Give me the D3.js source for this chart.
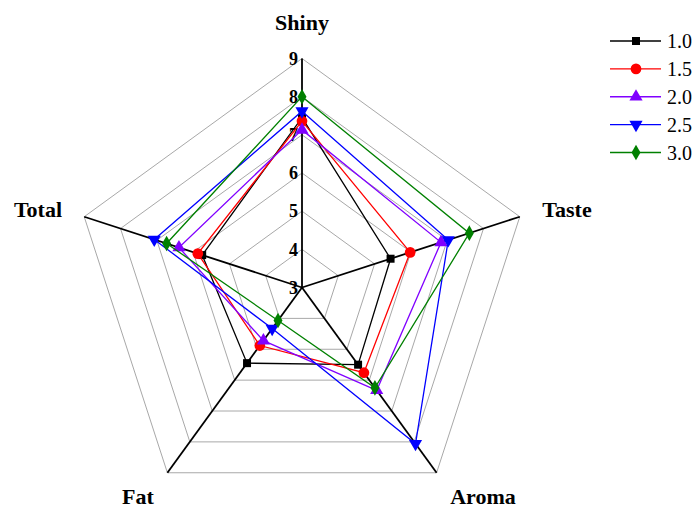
<!DOCTYPE html>
<html>
<head>
<meta charset="utf-8">
<script src="https://cdn.jsdelivr.net/npm/d3@7"></script>
<style>
  html, body { margin: 0; padding: 0; background: #fff; }
  svg { display: block; }
</style>
</head>
<body>
<svg id="chart" width="696" height="510"></svg>
<script>
"use strict";

/* ── Data ─────────────────────────────────────────────────────────── */

const AXES   = ["Shiny", "Taste", "Aroma", "Fat", "Total"];
const TICKS  = [3, 4, 5, 6, 7, 8, 9];
const SERIES = ["1.0", "1.5", "2.0", "2.5", "3.0"];

const values_1_0 = [7.45, 5.44, 5.50, 5.45, 5.75];
const values_1_5 = [7.36, 5.98, 5.76, 4.88, 5.87];
const values_2_0 = [7.13, 6.83, 6.33, 4.72, 6.39];
const values_2_5 = [7.62, 7.03, 8.06, 4.33, 7.07];
const values_3_0 = [8.00, 7.61, 6.25, 4.07, 6.73];

const SERIES_VALUES = [values_1_0, values_1_5, values_2_0, values_2_5, values_3_0];

const COLORS  = ["#000000", "#ff0000", "#8000ff", "#0000ff", "#008000"];
const SYMBOLS = ["square", "circle", "triangle", "triangleDown", "diamond"];

/* ── Layout ───────────────────────────────────────────────────────── */

const cx = 302, cy = 287.5, R = 229;
const SERIF = "Liberation Serif, Times New Roman, serif";

const svg = d3.select("#chart");
const g = svg.append("g").attr("transform", "translate(" + cx + "," + cy + ")");

const r = d3.scaleLinear().domain([3, 9]).range([0, R]);
const angle = d3.scaleLinear().domain([0, AXES.length]).range([0, 2 * Math.PI]);

function pt(i, v) {
  const a = angle(i);
  return [Math.sin(a) * r(v), -Math.cos(a) * r(v)];
}

/* ── Grid pentagons ───────────────────────────────────────────────── */

g.selectAll(".grid")
  .data(TICKS.slice(1))
  .enter().append("path")
  .attr("class", "grid")
  .attr("fill", "none")
  .attr("stroke", "#a8a8a8")
  .attr("stroke-width", 1)
  .attr("d", function (t) {
    return d3.line()(AXES.map(function (_, i) { return pt(i, t); })) + "Z";
  });

/* ── Axes ─────────────────────────────────────────────────────────── */

g.selectAll(".axis")
  .data(AXES)
  .enter().append("line")
  .attr("class", "axis")
  .attr("x1", 0).attr("y1", 0)
  .attr("x2", function (d, i) { return pt(i, 9)[0]; })
  .attr("y2", function (d, i) { return pt(i, 9)[1]; })
  .attr("stroke", "#000")
  .attr("stroke-width", 1.8);

/* Tick labels along the Shiny axis */
g.selectAll(".tick")
  .data(TICKS)
  .enter().append("text")
  .attr("class", "tick")
  .attr("x", -4)
  .attr("y", function (t) { return -r(t); })
  .attr("dy", "0.35em")
  .attr("text-anchor", "end")
  .attr("font-family", SERIF)
  .attr("font-weight", "bold")
  .attr("font-size", 18)
  .text(function (t) { return t; });

/* Axis titles */
const LABEL_POS = [[302, 30], [567, 217], [483, 504], [138, 504], [38, 217]];
svg.selectAll(".axis-label")
  .data(AXES)
  .enter().append("text")
  .attr("class", "axis-label")
  .attr("x", function (d, i) { return LABEL_POS[i][0]; })
  .attr("y", function (d, i) { return LABEL_POS[i][1]; })
  .attr("text-anchor", "middle")
  .attr("font-family", SERIF)
  .attr("font-weight", "bold")
  .attr("font-size", 22)
  .text(function (d) { return d; });

/* ── Series ───────────────────────────────────────────────────────── */

function symbolPath(name, size) {
  const types = {
    square: d3.symbolSquare,
    circle: d3.symbolCircle,
    triangle: d3.symbolTriangle,
    triangleDown: d3.symbolTriangle,
    diamond: d3.symbolDiamond
  };
  return d3.symbol().type(types[name]).size(size)();
}

function symbolTransform(name, x, y) {
  return "translate(" + x + "," + y + ")" + (name === "triangleDown" ? " rotate(180)" : "");
}

const SYMBOL_SIZE = { square: 64, circle: 90, triangle: 75, triangleDown: 75, diamond: 70 };

const radial = d3.lineRadial()
  .angle(function (d, i) { return angle(i); })
  .radius(function (d) { return r(d); })
  .curve(d3.curveLinearClosed);

SERIES_VALUES.forEach(function (vals, s) {
  const sg = g.append("g").attr("class", "series");
  sg.append("path")
    .attr("d", radial(vals))
    .attr("fill", "none")
    .attr("stroke", COLORS[s])
    .attr("stroke-width", 1.3);
  sg.selectAll(".marker")
    .data(vals)
    .enter().append("path")
    .attr("class", "marker")
    .attr("d", symbolPath(SYMBOLS[s], SYMBOL_SIZE[SYMBOLS[s]]))
    .attr("transform", function (v, i) {
      const p = pt(i, v);
      return symbolTransform(SYMBOLS[s], p[0], p[1]);
    })
    .attr("fill", COLORS[s]);
});

/* ── Legend ───────────────────────────────────────────────────────── */

const legendY = d3.scalePoint().domain(SERIES).range([41, 152.5]);
const legend = svg.append("g").attr("class", "legend");

SERIES.forEach(function (name, s) {
  const y = legendY(name);
  legend.append("line")
    .attr("x1", 610).attr("x2", 661)
    .attr("y1", y).attr("y2", y)
    .attr("stroke", COLORS[s])
    .attr("stroke-width", 1.3);
  legend.append("path")
    .attr("d", symbolPath(SYMBOLS[s], SYMBOL_SIZE[SYMBOLS[s]]))
    .attr("transform", symbolTransform(SYMBOLS[s], 636, y))
    .attr("fill", COLORS[s]);
  legend.append("text")
    .attr("x", 667)
    .attr("y", y)
    .attr("dy", "0.35em")
    .attr("font-family", SERIF)
    .attr("font-size", 20)
    .text(name);
});
</script>
</body>
</html>
